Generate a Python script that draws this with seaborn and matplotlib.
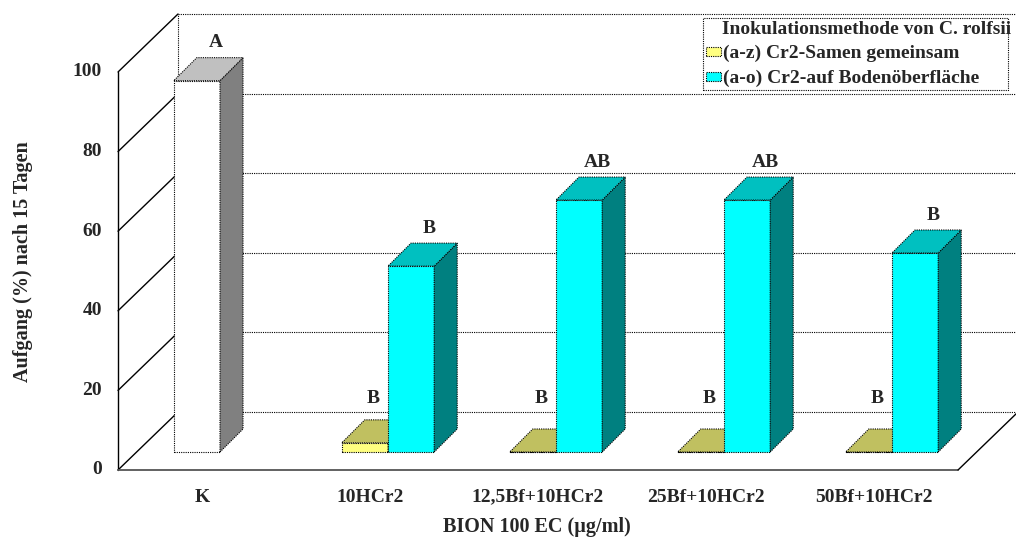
import numpy as np
import pandas as pd
import matplotlib
matplotlib.use("Agg")
import matplotlib.pyplot as plt
from matplotlib.patches import Polygon, Patch, Rectangle
import seaborn as sns

# ---- data -------------------------------------------------------------
categories = ["K", "10HCr2", "12,5Bf+10HCr2", "25Bf+10HCr2", "50Bf+10HCr2"]
series_names = ["(a-z) Cr2-Samen gemeinsam", "(a-o) Cr2-auf Bodenöberfläche"]
seed_values = [93.3, 2.3, 0.0, 0.0, 0.0]
surface_values = [np.nan, 46.7, 63.3, 63.3, 50.0]
seed_letters = ["A", "B", "B", "B", "B"]
surface_letters = ["", "B", "AB", "AB", "B"]
y_ticks = [0, 20, 40, 60, 80, 100]
legend_title = "Inokulationsmethode von C. rolfsii"
x_label = "BION 100 EC (µg/ml)"
y_label = "Aufgang (%) nach 15 Tagen"

# ---- styling ----------------------------------------------------------
# (front, top, side) shades for each bar colour
shades = {
    "seed": ("#FFFF80", "#C0C060", "#808040"),
    "surface": ("#00FFFF", "#00C0C0", "#008080"),
    "control": ("#FFFFFF", "#C0C0C0", "#808080"),
}
DOT = (0, (1, 1))
SERIF = ["Liberation Serif", "DejaVu Serif"]

sns.set_theme(style="white")
plt.rcParams["font.family"] = SERIF
plt.rcParams["font.weight"] = "bold"

W, H = 1016, 543
fig = plt.figure(figsize=(W / 100, H / 100), dpi=100)
ax = fig.add_axes([0, 0, 1, 1])

rows = []
for i, cat in enumerate(categories):
    for name, vals in zip(series_names, [seed_values, surface_values]):
        if not np.isnan(vals[i]):
            rows.append({"cat": cat, "series": name, "value": vals[i]})
df = pd.DataFrame(rows)

sns.barplot(data=df, x="cat", y="value", hue="series", order=categories,
            hue_order=series_names,
            palette=[shades["seed"][0], shades["surface"][0]],
            width=0.55, saturation=1, errorbar=None, legend=False, ax=ax)

# plot frame: one category = 168 px, one percent = 3.98 px
ax.set_xlim(-220 / 168, (W - 220) / 168)
ax.set_ylim(-(H - 452) / 3.98, 452 / 3.98)
ax.axis("off")

# oblique depth offsets (category units, percent units)
bar_dx, bar_dy = 0.137, 5.78
front_dx, front_dy = -0.107, -4.52
back_dx, back_dy = 0.25, 10.05
x0, x1 = -0.5, len(categories) - 0.5
top = max(y_ticks)

# back wall
for t in y_ticks:
    ax.plot([x0 + back_dx, x1 + back_dx], [t + back_dy] * 2, color="black",
            ls=DOT, lw=0.8, zorder=1)
ax.plot([x0 + back_dx] * 2, [back_dy, top + back_dy], color="black",
        ls=DOT, lw=0.8, zorder=1)
# side wall
for t in y_ticks:
    ax.plot([x0 + front_dx, x0 + back_dx], [t + front_dy, t + back_dy],
            color="black", lw=1.0, zorder=1.2)
ax.plot([x0 + front_dx] * 2, [front_dy, top + front_dy], color="black",
        lw=1.0, zorder=1.2)
# floor
ax.plot([x0 + front_dx, x1 + front_dx], [front_dy] * 2, color="#555555",
        lw=1.3, zorder=1.2)
ax.plot([x1 + front_dx, x1 + back_dx], [front_dy, back_dy], color="black",
        lw=1.0, zorder=1.2)

# bars: seaborn gives the front faces, add top and side faces
bars = sorted(ax.patches, key=lambda p: p.get_x())
for k, p in enumerate(bars):
    x, w, h = p.get_x(), p.get_width(), p.get_height()
    cx = x + w / 2
    ci = int(round(cx))
    first = cx < ci
    if first:
        key = "control" if categories[ci] == "K" else "seed"
        letter = seed_letters[ci]
    else:
        key = "surface"
        letter = surface_letters[ci]
    front, topc, side = shades[key]
    z = 3 + k * 0.1
    p.set_facecolor(front)
    p.set_edgecolor("black")
    p.set_linestyle(DOT)
    p.set_linewidth(0.8)
    p.set_zorder(z)
    side_poly = Polygon([(x + w, 0), (x + w + bar_dx, bar_dy),
                         (x + w + bar_dx, h + bar_dy), (x + w, h)],
                        closed=True, facecolor=side, edgecolor="black",
                        ls=DOT, lw=0.8, zorder=z + 0.01)
    top_poly = Polygon([(x, h), (x + w, h), (x + w + bar_dx, h + bar_dy),
                        (x + bar_dx, h + bar_dy)],
                       closed=True, facecolor=topc, edgecolor="black",
                       ls=DOT, lw=0.8, zorder=z + 0.02)
    ax.add_patch(side_poly)
    ax.add_patch(top_poly)
    if letter:
        # letters over flat bars sit a little higher and closer to the bar
        short = h < 5
        lx = cx + (0.05 if short else 0.11)
        ly = max(h + 9.5, 13.5)
        ax.text(lx, ly, letter, ha="center", va="center",
                fontsize=14, fontweight="bold", zorder=10)

# value axis labels on the front plane
for t in y_ticks:
    ax.text(x0 + front_dx - 0.095, t + front_dy, str(t), ha="right",
            va="center", fontsize=14, fontweight="bold")
# category labels
for i, cat in enumerate(categories):
    ax.text(i + front_dx, front_dy - 6.8, cat, ha="center", va="center",
            fontsize=14, fontweight="bold")

fig.text(537 / W, 1 - 527 / H, x_label, ha="center", va="center",
         fontsize=14.5, fontweight="bold")
fig.text(23 / W, 1 - 262 / H, y_label, ha="center", va="center",
         rotation=90, fontsize=14.5, fontweight="bold")

# legend: dotted frame, title and two colour keys
fig.add_artist(Rectangle((703 / W, 1 - 90 / H), 305 / W, 72 / H,
                         transform=fig.transFigure, facecolor="white",
                         edgecolor="black", ls=DOT, lw=0.8, zorder=19))
fig.text(722 / W, 1 - 30 / H, legend_title, ha="left", va="center",
         fontsize=14, fontweight="bold", zorder=21)
handles = [Patch(facecolor=shades["seed"][0], edgecolor="black", ls=DOT, lw=0.8),
           Patch(facecolor=shades["surface"][0], edgecolor="black", ls=DOT, lw=0.8)]
leg = fig.legend(handles, series_names, loc="upper left",
                 bbox_to_anchor=(706 / W, 1 - 45 / H), frameon=False,
                 borderaxespad=0, borderpad=0, handlelength=0.75,
                 handleheight=0.35, handletextpad=0.1, labelspacing=0.4,
                 prop={"family": SERIF, "weight": "bold", "size": 14})
leg.set_zorder(21)

fig.savefig("out.png", dpi=100, facecolor="white")
